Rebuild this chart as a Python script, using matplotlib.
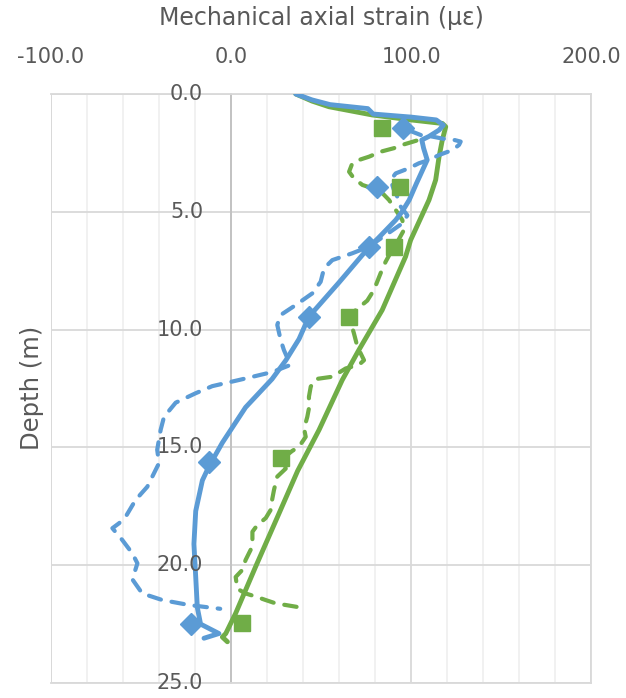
import matplotlib
matplotlib.use("Agg")
import matplotlib.pyplot as plt
from matplotlib.ticker import MultipleLocator, FuncFormatter
from matplotlib.transforms import offset_copy

# ---- data (strain in microstrain, depth in m) ----
blue_solid_x = [36, 45, 55, 76, 79, 100, 114, 118, 115.6, 110, 106, 107, 109, 103, 99, 95,
                91.5, 82, 76.7, 60, 43.3, 37.8, 30.5, 22.8, 8.1, -4.8, -12.2, -15.9, -19.6,
                -20.6, -19.6, -18.7, -16.9, -6.7, -15]
blue_solid_depth = [0, 0.25, 0.45, 0.62, 0.85, 0.98, 1.1, 1.32, 1.53, 1.8, 1.95, 2.3, 2.8, 3.8,
                    4.5, 5.0, 5.35, 6.1, 6.5, 8.0, 9.45, 10.4, 11.3, 12.1, 13.3, 14.8, 15.8, 16.4,
                    17.7, 19.1, 20.5, 21.8, 22.5, 22.9, 23.1]

green_solid_x = [36, 45, 54.4, 78.5, 100, 117.4, 119.3, 117.4, 115.6, 113.7, 110, 107, 104,
                 99.8, 97, 84, 71, 61.8, 48.9, 37, 26.7, 13.7, 2.6, -2.9, -4.8, -2]
green_solid_depth = [0, 0.3, 0.54, 0.89, 1.1, 1.25, 1.39, 1.95, 2.66, 3.65, 4.5, 5.0, 5.5,
                     6.2, 6.9, 9.17, 10.87, 12.14, 14.26, 16.0, 17.8, 20.06, 22.04, 22.9, 23.05, 23.25]

blue_dash_x = [99, 105.4, 112, 119.3, 124, 127.6, 126.7, 123, 115.6, 110, 104.4, 98.9, 91.5,
               88.7, 90.5, 92.4, 94.3, 98, 95.2, 76.7, 67.4, 56.3, 51.7, 49.8, 45.2, 35.9,
               27.6, 25.7, 27.6, 29.4, 33, 23, 4.4, -10.4, -19.6, -30.7, -37.2, -39.1, -41,
               -40, -42.8, -46.5, -53, -58.5, -62.2, -65.9, -60.4, -54.8, -52, -54.8, -49.3,
               -38.1, -23.3, -6]
blue_dash_depth = [1.55, 1.74, 1.81, 1.92, 1.95, 2.02, 2.16, 2.38, 2.59, 2.8, 2.94, 3.15, 3.37,
                   3.65, 4.07, 4.36, 4.78, 5.15, 5.49, 6.48, 6.76, 7.05, 7.4, 7.97, 8.46, 8.96,
                   9.38, 9.8, 10.44, 10.87, 11.5, 11.8, 12.14, 12.4, 12.7, 13.1, 13.7, 14.26, 15.1,
                   15.67, 16.1, 16.67, 17.23, 17.94, 18.22, 18.43, 18.93, 19.5, 19.92, 20.6, 21.2,
                   21.48, 21.69, 21.85]

green_dash_x = [103, 95.2, 90.5, 83.1, 76.7, 71.1, 67.4, 65.6, 68.3, 73, 78.5, 84, 87.8, 91.5,
                95.2, 96.1, 93, 90.5, 85.9, 83.1, 79.4, 75.7, 69.3, 65.6, 68.3, 70.2, 73.9, 71,
                63.7, 56.3, 47, 44.3, 43.3, 43.3, 42.4, 40.6, 41.5, 37.8, 34, 29, 30.4, 25.7,
                23.9, 22.9, 22, 19.3, 14.6, 11.9, 11.9, 10.9, 8.1, 6.3, 2.6, 3.5, 8.1, 13.7,
                19.3, 24.8, 30.4, 35.9, 40.6]
green_dash_depth = [1.98, 2.16, 2.3, 2.45, 2.66, 2.8, 2.94, 3.3, 3.58, 3.86, 4.0, 4.2, 4.5, 4.92,
                    5.35, 5.77, 6.2, 6.48, 7.12, 7.61, 8.32, 8.77, 9.17, 9.45, 10.16, 10.72, 11.3,
                    11.5, 11.65, 12.0, 12.1, 12.42, 12.85, 13.34, 13.7, 14.2, 14.55, 14.97, 15.15,
                    15.45, 15.9, 16.24, 16.8, 17.2, 17.66, 18.0, 18.3, 18.58, 19.0, 19.35, 19.78,
                    20.2, 20.5, 21.0, 21.2, 21.33, 21.48, 21.62, 21.69, 21.76, 21.83]

diamond_x = [95.6, 81.3, 76.7, 43.3, -12.2, -22.4]
diamond_depth = [1.46, 3.93, 6.48, 9.45, 15.6, 22.5]
square_x = [84, 93.7, 90.5, 65.6, 27.6, 6.3]
square_depth = [1.46, 3.93, 6.48, 9.45, 15.47, 22.47]

x_ticks = [-100, 0, 100, 200]
y_ticks = [0, 5, 10, 15, 20, 25]

BLUE = "#5B9BD5"
GREEN = "#70AD47"
TXT = "#595959"

plt.rcParams['font.family'] = ['DejaVu Sans']

fig = plt.figure(figsize=(6.26, 6.98), dpi=100)
ax = fig.add_axes([51/626, 1-683/698, 540/626, 589/698])

ax.set_xlim(-100, 200)
ax.set_ylim(25, 0)

ax.set_xticks(x_ticks)
ax.xaxis.set_minor_locator(MultipleLocator(20))
ax.set_yticks(y_ticks)
fmt = FuncFormatter(lambda v, p: f"{v:.1f}")
ax.xaxis.set_major_formatter(fmt)
ax.yaxis.set_major_formatter(fmt)

ax.grid(which='minor', axis='x', color='#EFEFEF', lw=1.2, zorder=0)
ax.grid(which='major', axis='both', color='#D9D9D9', lw=1.3, zorder=0)
ax.set_axisbelow(True)

for s in ['top', 'bottom', 'right']:
    ax.spines[s].set_color('#D9D9D9')
    ax.spines[s].set_linewidth(1.3)
ax.spines['left'].set_position(('data', 0))
ax.spines['left'].set_color('#BFBFBF')
ax.spines['left'].set_linewidth(1.2)
ax.axvline(-100, color='#D9D9D9', lw=1.3, zorder=0)

ax.xaxis.tick_top()
ax.xaxis.set_label_position('top')
ax.tick_params(axis='x', which='both', length=0, pad=19.5, labelsize=15, colors=TXT)
ax.tick_params(axis='y', which='both', length=0, labelleft=False)

# y tick labels placed left of the vertical axis at x = 0
ylab_tr = offset_copy(ax.transData, fig=fig, x=-28, y=0, units='dots')
for d in y_ticks:
    ax.text(0, d, f"{d:.1f}", transform=ylab_tr, ha='right', va='center',
            fontsize=15, color=TXT, clip_on=False, zorder=6)

ax.set_xlabel("Mechanical axial strain (με)", fontsize=17, color=TXT, labelpad=15.5)
fig.text(32/626, 1-388/698, "Depth (m)", rotation=90, ha='center', va='center',
         fontsize=17.5, color=TXT)

lw_s = 3.5
lw_d = 3.0
ax.plot(green_solid_x, green_solid_depth, color=GREEN, lw=lw_s, solid_capstyle='round',
        solid_joinstyle='round', zorder=3)
ax.plot(blue_solid_x, blue_solid_depth, color=BLUE, lw=lw_s, solid_capstyle='round',
        solid_joinstyle='round', zorder=4)
ax.plot(green_dash_x, green_dash_depth, color=GREEN, lw=lw_d, ls=(0, (3.0, 2.6)),
        dash_capstyle='round', zorder=3)
ax.plot(blue_dash_x, blue_dash_depth, color=BLUE, lw=lw_d, ls=(0, (3.0, 2.6)),
        dash_capstyle='round', zorder=4)
ax.plot(diamond_x, diamond_depth, ls='none', marker='D', ms=11, color=BLUE, zorder=5)
ax.plot(square_x, square_depth, ls='none', marker='s', ms=12, color=GREEN, zorder=5)

fig.savefig("out.png", dpi=100)
